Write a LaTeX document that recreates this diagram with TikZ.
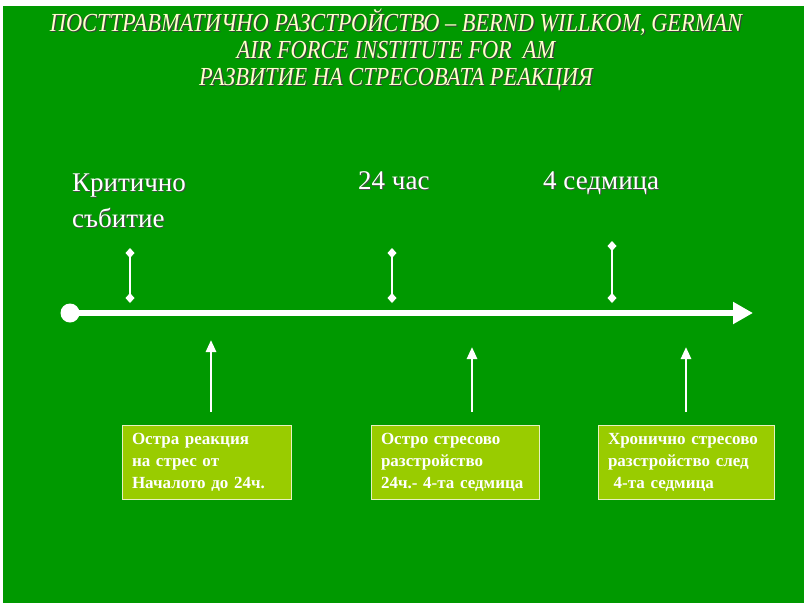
\documentclass[tikz,border=0pt]{standalone}
\usepackage{fontspec}
\setmainfont{Liberation Serif}
\newfontfamily\narrowserif[FakeStretch=0.86]{Liberation Serif}
\usetikzlibrary{positioning, arrows.meta}
\definecolor{slidegreen}{RGB}{0,153,0}
\definecolor{boxgreen}{RGB}{153,204,0}
\definecolor{titleyellow}{RGB}{255,255,204}

\begin{document}
\begin{tikzpicture}[x=1pt, y=-1pt, node distance=36pt]
        \tikzstyle{phase}=[draw=white!75!boxgreen, fill=boxgreen, rectangle, line width=.7pt, minimum height=74pt, inner xsep=10pt, align=left, text=white, font=\fontsize{17}{22}\selectfont\bfseries];
        \tikzstyle{stamp}=[text=white, inner sep=0pt, anchor=base west, font=\fontsize{27}{36}\selectfont];
        \tikzstyle{marker}=[draw=white, line width=2.6pt, {Diamond[length=10pt, width=9pt]}-{Diamond[length=10pt, width=9pt]}];
        \tikzstyle{rise}=[draw=white, line width=2.6pt, -{Triangle[length=12pt, width=10pt]}];
        \useasboundingbox (0,0) rectangle (804,603);
        \fill[slidegreen] (3,6) rectangle (804,603);

        % title
        \foreach \dx/\col in {1.2/black!75, 0/titleyellow}
          \node[text=\col, align=center, font=\narrowserif\itshape\fontsize{26}{27}\selectfont] at (396+\dx,50+\dx) {ПОСТТРАВМАТИЧНО РАЗСТРОЙСТВО – BERND WILLKOM, GERMAN\\AIR FORCE INSTITUTE FOR \ AM\\РАЗВИТИЕ НА СТРЕСОВАТА РЕАКЦИЯ};

        % time line
        \node[circle, fill=white, minimum size=19pt, inner sep=0pt] (start) at (70,313) {};
        \coordinate (end) at (753,313);
        \draw[draw=white, line width=6pt, -{Triangle[length=20pt, width=21pt]}] (start.center) -- (end);

        % labels above the line
        \foreach \dx/\col in {1/black!70, 0/white} {
          \node[stamp, text=\col] (event) at (72+\dx,191+\dx) {Критично};
          \node[stamp, text=\col] (event2) at (72+\dx,227+\dx) {събитие};
          \node[stamp, text=\col] (day) at (358+\dx,189+\dx) {24 час};
          \node[stamp, text=\col] (week) at (543+\dx,189+\dx) {4 седмица};
        }

        \coordinate (m1) at (130,248); \coordinate (n1) at (130,303);
        \coordinate (m2) at (392,248); \coordinate (n2) at (392,303);
        \coordinate (m3) at (612,241); \coordinate (n3) at (612,303);
        \draw[marker] (m1) -- (n1);
        \draw[marker] (m2) -- (n2);
        \draw[marker] (m3) -- (n3);

        % phases
        \node[phase, minimum width=169pt, text width=149pt] (acute) at (206.5,462) {Остра реакция\\на стрес от\\Началото до 24ч.};
        \node[phase, minimum width=168pt, text width=148pt] (disorder) at (455,462) {Остро стресово\\разстройство\\24ч.- 4-та седмица};
        \node[phase, minimum width=176pt, text width=156pt] (chronic) at (686,462) {Хронично стресово\\разстройство след\\ \ 4-та седмица};

        \coordinate (r1) at (211,412); \coordinate (t1) at (211,340);
        \coordinate (r2) at (472,412); \coordinate (t2) at (472,347);
        \coordinate (r3) at (686,412); \coordinate (t3) at (686,347);
        \draw[rise] (r1) -- (t1);
        \draw[rise] (r2) -- (t2);
        \draw[rise] (r3) -- (t3);
\end{tikzpicture}
\end{document}
